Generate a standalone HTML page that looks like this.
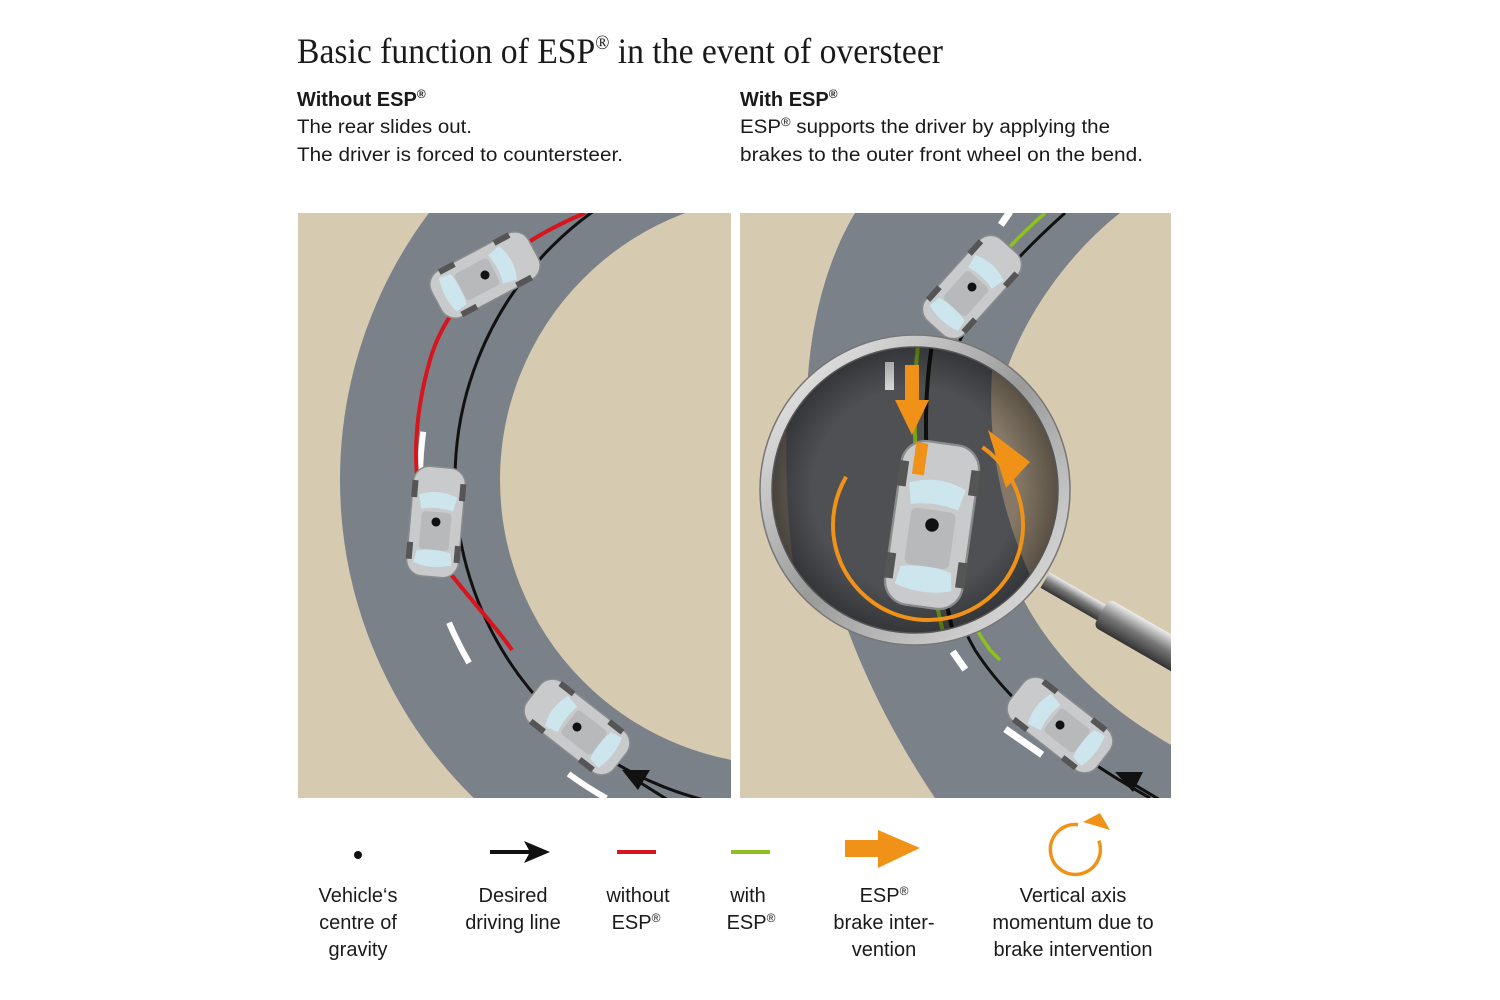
<!DOCTYPE html>
<html><head><meta charset="utf-8"><style>
html,body{margin:0;padding:0;background:#fff;width:1500px;height:1000px;overflow:hidden}
svg text{font-family:"Liberation Sans",sans-serif;fill:#1a1a1a}
</style></head><body>
<svg width="1500" height="1000" viewBox="0 0 1500 1000" xmlns="http://www.w3.org/2000/svg">
<defs>
<clipPath id="cl"><rect x="298" y="213" width="433" height="585"/></clipPath>
<clipPath id="cr"><rect x="740" y="213" width="431" height="585"/></clipPath>
<clipPath id="cm"><circle cx="915" cy="490" r="146"/></clipPath>
<radialGradient id="lens" cx="0.5" cy="0.5" r="0.5"><stop offset="0.7" stop-color="#000" stop-opacity="0.15"/><stop offset="1" stop-color="#000" stop-opacity="0.45"/></radialGradient>
<linearGradient id="handle" x1="0" y1="0" x2="0" y2="1"><stop offset="0" stop-color="#eee"/><stop offset="0.5" stop-color="#777"/><stop offset="1" stop-color="#333"/></linearGradient>
<linearGradient id="ring" x1="0" y1="0" x2="1" y2="1"><stop offset="0" stop-color="#f4f4f4"/><stop offset="0.5" stop-color="#9a9a9a"/><stop offset="1" stop-color="#e8e8e8"/></linearGradient>
<g id="car">
<rect x="-26" y="-55" width="52" height="110" rx="16" fill="#c9cacc" stroke="#8a8b8d" stroke-width="1.5"/>
<rect x="-27" y="-40" width="6" height="17" fill="#555"/><rect x="21" y="-40" width="6" height="17" fill="#555"/>
<rect x="-27" y="22" width="6" height="17" fill="#555"/><rect x="21" y="22" width="6" height="17" fill="#555"/>
<path d="M-19,-26 Q0,-34 19,-26 L16,-12 Q0,-16 -16,-12 Z" fill="#cde6ee"/>
<path d="M-17,30 Q0,26 17,30 L19,42 Q0,48 -19,42 Z" fill="#cde6ee"/>
<rect x="-15" y="-10" width="30" height="38" rx="4" fill="#b8b9bb"/>
<circle cx="0" cy="0" r="4.5" fill="#111"/>
</g>
</defs>

<text x="297" y="63" style="font-family:'Liberation Serif',serif" font-size="36" textLength="646" lengthAdjust="spacingAndGlyphs">Basic function of ESP<tspan font-size="20" dy="-14">®</tspan><tspan dy="14"> in the event of oversteer</tspan></text>

<text x="297" y="106" font-size="20" font-weight="bold">Without ESP<tspan font-size="12" dy="-8">®</tspan></text>
<text x="297" y="133" font-size="19" textLength="175" lengthAdjust="spacingAndGlyphs">The rear slides out.</text>
<text x="297" y="161" font-size="19" textLength="326" lengthAdjust="spacingAndGlyphs">The driver is forced to countersteer.</text>
<text x="740" y="106" font-size="20" font-weight="bold">With ESP<tspan font-size="12" dy="-8">®</tspan></text>
<text x="740" y="133" font-size="19" textLength="370" lengthAdjust="spacingAndGlyphs">ESP<tspan font-size="12" dy="-7">®</tspan><tspan dy="7"> supports the driver by applying the</tspan></text>
<text x="740" y="161" font-size="19" textLength="403" lengthAdjust="spacingAndGlyphs">brakes to the outer front wheel on the bend.</text>

<!-- LEFT PANEL -->
<g clip-path="url(#cl)">
<rect x="298" y="213" width="433" height="585" fill="#d6cab1"/>
<circle cx="785" cy="480" r="365" fill="none" stroke="#7b8189" stroke-width="160"/>
<circle cx="785" cy="480" r="365" fill="none" stroke="#fff" stroke-width="6" stroke-dasharray="45 150" stroke-dashoffset="20"/>
<circle cx="785" cy="480" r="330" fill="none" stroke="#111" stroke-width="3"/>
<path d="M585,213 C520,240 450,290 430,360 C410,430 410,500 440,560 C470,600 495,625 512,650" fill="none" stroke="#d8141c" stroke-width="4"/>
<path d="M636,780 L668,800" stroke="#111" stroke-width="3"/>
<path d="M622,770 L650,770 L638,790 Z" fill="#111"/>
<use href="#car" transform="translate(485,275) rotate(62)"/>
<use href="#car" transform="translate(436,522) rotate(5)"/>
<use href="#car" transform="translate(577,727) rotate(-52)"/>
</g>
<rect x="731" y="213" width="9" height="585" fill="#fff"/>

<!-- RIGHT PANEL -->
<g clip-path="url(#cr)">
<rect x="740" y="213" width="431" height="585" fill="#d6cab1"/>
<path d="M855,213 C785,330 775,560 935,798 L1171,798 L1171,745 C1040,670 985,560 990,450 C995,350 1060,260 1120,213 Z" fill="#7b8189"/>
<path d="M1045,213 C980,270 940,330 930,400 C920,480 940,580 990,650 L1000,660" fill="none" stroke="#8cc11f" stroke-width="3.5"/>
<path d="M1065,213 C990,280 955,330 940,400 C925,480 935,580 975,650 C1020,720 1100,770 1150,798" fill="none" stroke="#111" stroke-width="3"/>
<rect x="1002" y="210" width="7" height="16" fill="#fff" transform="rotate(35 1005 218)"/>
<rect x="955" y="650" width="7" height="22" fill="#fff" transform="rotate(-35 958 660)"/>
<rect x="1020" y="720" width="7" height="45" fill="#fff" transform="rotate(-55 1023 742)"/>
<path d="M1135,785 L1160,800" stroke="#111" stroke-width="3"/>
<path d="M1115,772 L1143,772 L1133,792 Z" fill="#111"/>
<use href="#car" transform="translate(972,287) rotate(42)"/>
<use href="#car" transform="translate(1060,725) rotate(-52)"/>
<g transform="translate(1045,580) rotate(30)">
<rect x="0" y="-9" width="70" height="18" fill="url(#handle)"/>
<rect x="65" y="-16" width="100" height="32" rx="6" fill="url(#handle)"/>
</g>
<g clip-path="url(#cm)">
<rect x="760" y="340" width="320" height="310" fill="#5c5e63"/>
<path d="M995,340 C985,420 990,520 1065,640 L1080,640 L1080,340 Z" fill="#9c8d78"/>
<path d="M760,340 L795,340 C782,420 782,520 805,640 L760,640 Z" fill="#7e766a"/>
<path d="M918,345 C910,420 915,520 945,640" fill="none" stroke="#8cc11f" stroke-width="4"/>
<path d="M932,345 C920,420 925,520 955,640" fill="none" stroke="#111" stroke-width="4"/>
<rect x="885" y="362" width="9" height="28" fill="#fff"/>
<circle cx="915" cy="490" r="146" fill="url(#lens)"/>
<circle cx="928" cy="525" r="95" fill="none" stroke="#ef9217" stroke-width="4" stroke-dasharray="440 157" transform="rotate(-55 928 525)"/>
<path d="M988,430 L1030,462 L1006,488 Z" fill="#ef9217"/>
<rect x="905" y="365" width="14" height="40" fill="#ef9217"/>
<path d="M895,400 L929,400 L912,435 Z" fill="#ef9217"/>
<use href="#car" transform="translate(932,525) rotate(8) scale(1.5)"/>
<rect x="905" y="445" width="12" height="32" fill="#ef9217" transform="rotate(8 932 525)"/>
</g>
<circle cx="915" cy="490" r="149" fill="none" stroke="url(#ring)" stroke-width="11"/>
<circle cx="915" cy="490" r="155" fill="none" stroke="#777" stroke-width="1.5"/>
<circle cx="915" cy="490" r="143" fill="none" stroke="#555" stroke-width="1.5"/>
</g>

<!-- LEGEND -->
<circle cx="358" cy="855" r="4" fill="#111"/>
<line x1="490" y1="852" x2="532" y2="852" stroke="#111" stroke-width="4"/>
<path d="M524,841 L550,852 L524,863 L530,852 Z" fill="#111"/>
<line x1="617" y1="852" x2="656" y2="852" stroke="#d8141c" stroke-width="4"/>
<line x1="731" y1="852" x2="770" y2="852" stroke="#8cc11f" stroke-width="4"/>
<rect x="845" y="840" width="35" height="17" fill="#ef9217"/>
<path d="M878,830 L920,848 L878,868 Z" fill="#ef9217"/>
<path d="M1095,834 A25,25 0 1 1 1070,826" fill="none" stroke="#ef9217" stroke-width="3.5" transform="rotate(20 1078 848)"/>
<path d="M1083,822 L1100,813 L1110,830 Z" fill="#ef9217"/>

<g font-size="20" text-anchor="middle">
<text x="358" y="902">Vehicle‘s</text><text x="358" y="929">centre of</text><text x="358" y="956">gravity</text>
<text x="513" y="902">Desired</text><text x="513" y="929">driving line</text>
<text x="638" y="902">without</text><text x="636" y="929">ESP<tspan font-size="12" dy="-7">®</tspan></text>
<text x="748" y="902">with</text><text x="751" y="929">ESP<tspan font-size="12" dy="-7">®</tspan></text>
<text x="884" y="902">ESP<tspan font-size="12" dy="-7">®</tspan></text><text x="884" y="929">brake inter-</text><text x="884" y="956">vention</text>
<text x="1073" y="902">Vertical axis</text><text x="1073" y="929">momentum due to</text><text x="1073" y="956">brake intervention</text>
</g>
</svg>
</body></html>
